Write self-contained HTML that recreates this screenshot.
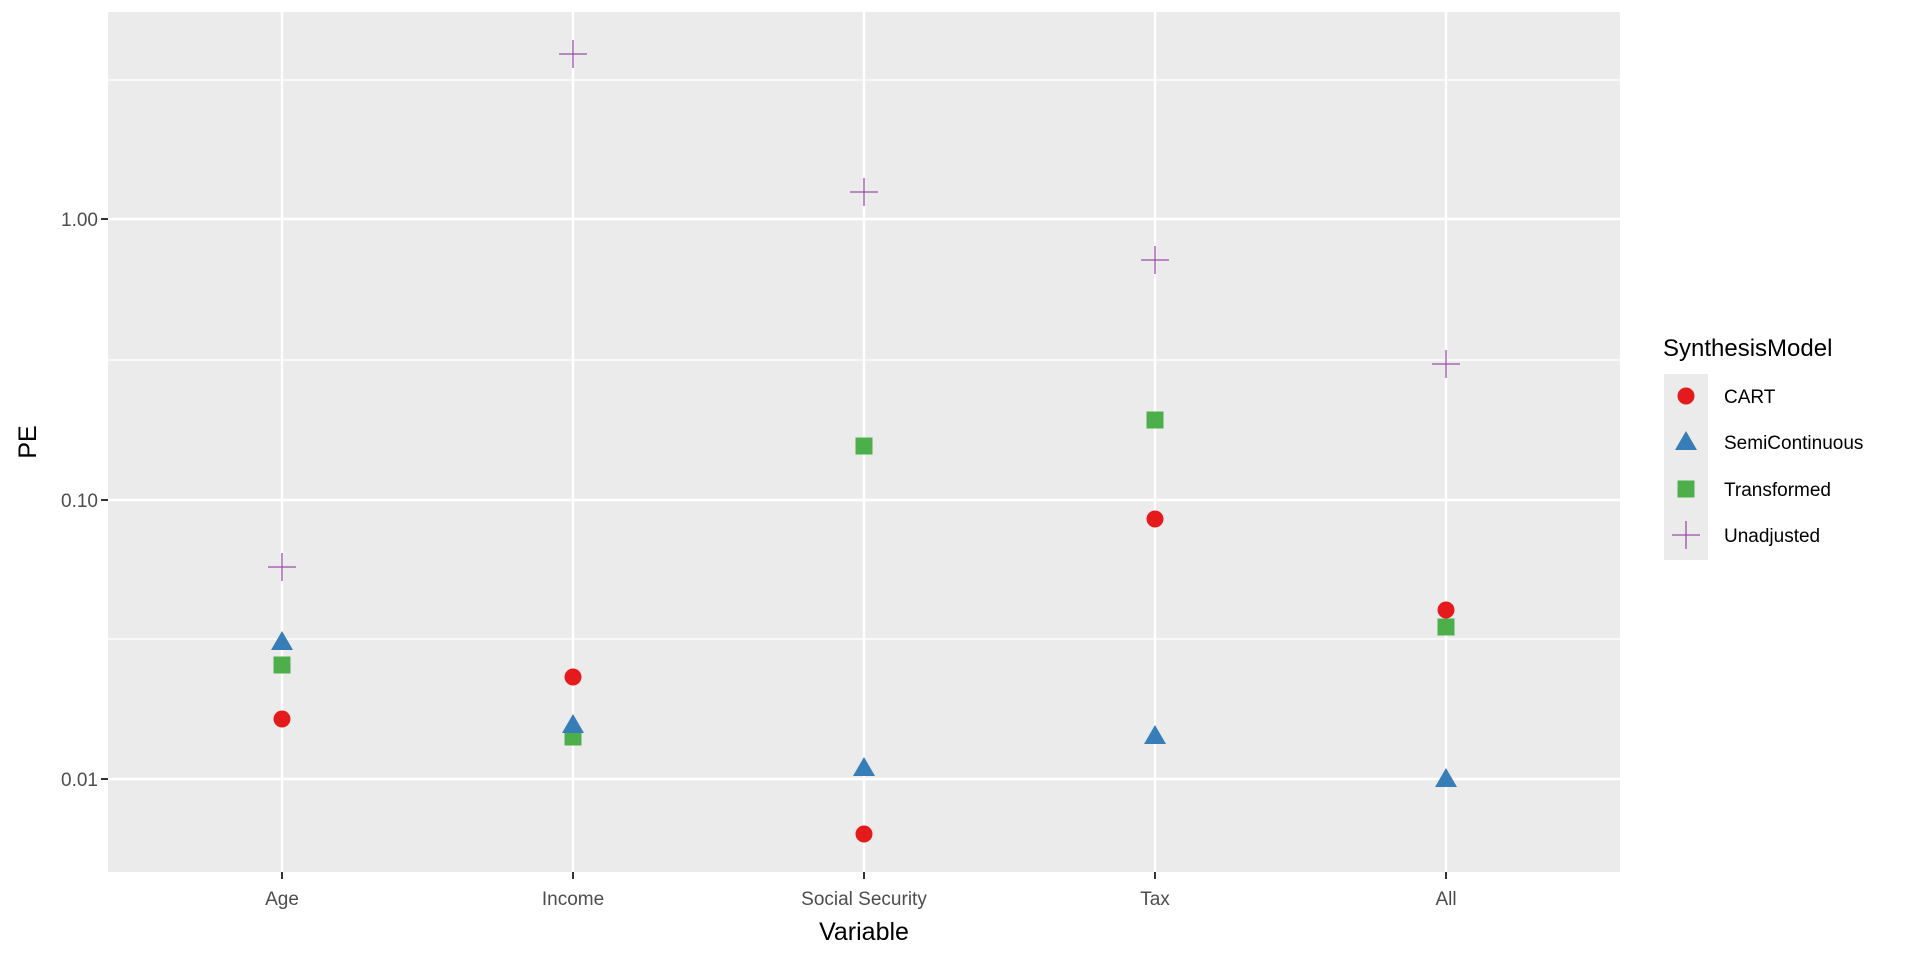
<!DOCTYPE html><html><head><style>body{margin:0;background:#fff}</style></head><body>
<svg width="1920" height="960" xmlns="http://www.w3.org/2000/svg" font-family="Liberation Sans, sans-serif">
<rect x="108" y="12" width="1512" height="860" fill="#ebebeb"/>
<g stroke="#fff" stroke-width="1.2"><line x1="108" x2="1620" y1="80" y2="80"/><line x1="108" x2="1620" y1="360" y2="360"/><line x1="108" x2="1620" y1="639" y2="639"/></g>
<g stroke="#fff" stroke-width="2.4"><line x1="108" x2="1620" y1="219" y2="219"/><line x1="108" x2="1620" y1="500" y2="500"/><line x1="108" x2="1620" y1="779" y2="779"/>
<line x1="282" x2="282" y1="12" y2="872"/><line x1="573" x2="573" y1="12" y2="872"/><line x1="864" x2="864" y1="12" y2="872"/><line x1="1155" x2="1155" y1="12" y2="872"/><line x1="1446" x2="1446" y1="12" y2="872"/></g>
<g stroke="#333" stroke-width="2"><line x1="101" x2="108" y1="219" y2="219"/><line x1="101" x2="108" y1="500" y2="500"/><line x1="101" x2="108" y1="779" y2="779"/>
<line x1="282" x2="282" y1="872" y2="879"/><line x1="573" x2="573" y1="872" y2="879"/><line x1="864" x2="864" y1="872" y2="879"/><line x1="1155" x2="1155" y1="872" y2="879"/><line x1="1446" x2="1446" y1="872" y2="879"/></g>
<g fill="#4d4d4d" font-size="19" text-anchor="end"><text x="98" y="226">1.00</text><text x="98" y="507">0.10</text><text x="98" y="786">0.01</text></g>
<g fill="#4d4d4d" font-size="19" text-anchor="middle"><text x="282" y="905">Age</text><text x="573" y="905">Income</text><text x="864" y="905">Social Security</text><text x="1155" y="905">Tax</text><text x="1446" y="905">All</text></g>
<text x="864" y="940" font-size="25" text-anchor="middle">Variable</text>
<text transform="translate(36,442) rotate(-90)" font-size="25" text-anchor="middle">PE</text>
<defs>
<g id="c"><circle r="8.5" fill="#e41a1c"/></g>
<g id="t"><polygon points="0,-11 11,8 -11,8" fill="#377eb8"/></g>
<g id="s"><rect x="-8.5" y="-8.5" width="17" height="17" fill="#4daf4a"/></g>
<g id="p" stroke="#984ea3" stroke-width="1.3"><line x1="-14" x2="14"/><line y1="-14" y2="14"/></g>
</defs>
<use href="#p" x="282" y="567"/><use href="#t" x="282" y="642"/><use href="#s" x="282" y="665"/><use href="#c" x="282" y="719"/>
<use href="#p" x="573" y="54"/><use href="#c" x="573" y="677"/><use href="#s" x="573" y="737"/><use href="#t" x="573" y="725"/>
<use href="#p" x="864" y="192"/><use href="#s" x="864" y="446"/><use href="#t" x="864" y="768"/><use href="#c" x="864" y="834"/>
<use href="#p" x="1155" y="260"/><use href="#s" x="1155" y="420"/><use href="#c" x="1155" y="519"/><use href="#t" x="1155" y="736"/>
<use href="#p" x="1446" y="364"/><use href="#c" x="1446" y="610"/><use href="#s" x="1446" y="627"/><use href="#t" x="1446" y="779"/>
<text x="1663" y="356" font-size="24">SynthesisModel</text>
<rect x="1664" y="374" width="44" height="186" fill="#ebebeb"/>
<use href="#c" x="1686" y="396"/><use href="#t" x="1686" y="442"/><use href="#s" x="1686" y="489"/><use href="#p" x="1686" y="535"/>
<g font-size="19"><text x="1724" y="403">CART</text><text x="1724" y="449">SemiContinuous</text><text x="1724" y="496">Transformed</text><text x="1724" y="542">Unadjusted</text></g>
</svg></body></html>
